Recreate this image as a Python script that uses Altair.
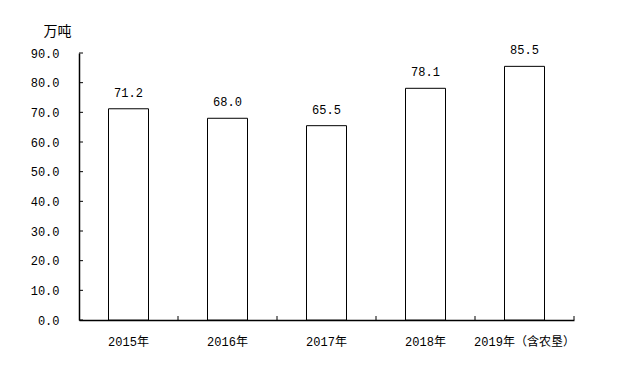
import altair as alt
import pandas as pd

categories = ["2015年", "2016年", "2017年", "2018年", "2019年（含农垦）"]
values = [71.2, 68.0, 65.5, 78.1, 85.5]
y_ticks = [0, 10, 20, 30, 40, 50, 60, 70, 80, 90]

df = pd.DataFrame({"cat": categories, "val": values})
df["label"] = [f"{v:.1f}" for v in values]
ticks_df = pd.DataFrame({"t": y_ticks})

FONT = "Liberation Mono, Noto Sans CJK SC"

x_axis = alt.Axis(title=None, labelAngle=0, ticks=False, domain=True,
                  domainColor="black", domainWidth=1.5,
                  labelPadding=16, labelFont=FONT, labelFontSize=12,
                  labelColor="black", labelOverlap=False)
y_axis = alt.Axis(values=y_ticks, format=".1f", ticks=False, grid=False,
                  domainColor="black", domainWidth=1.5,
                  labelPadding=20, labelFont=FONT, labelFontSize=12,
                  labelColor="black", labelOverlap=False, labelSeparation=0,
                  title="万吨", titleAngle=0, titleX=-22, titleY=-22,
                  titleAlign="center", titleBaseline="middle",
                  titleFont=FONT, titleFontSize=14, titleFontWeight="normal",
                  titleColor="black")
x_scale = alt.Scale(paddingInner=0, paddingOuter=0)
y_scale = alt.Scale(domain=[0, 90], nice=False)

bars = alt.Chart(df).mark_bar(width=40, fill="white", stroke="black", strokeWidth=1).encode(
    x=alt.X("cat:N", sort=categories, scale=x_scale, axis=x_axis),
    y=alt.Y("val:Q", scale=y_scale, axis=y_axis),
)

text = alt.Chart(df).mark_text(baseline="bottom", dy=-9, font=FONT, fontSize=12,
                               color="black").encode(
    x=alt.X("cat:N", sort=categories, scale=x_scale, axis=x_axis),
    y=alt.Y("val:Q", scale=y_scale, axis=y_axis),
    text="label:N",
)

xticks = alt.Chart(df).mark_rule(color="black", strokeWidth=1).encode(
    x=alt.X("cat:N", sort=categories, bandPosition=1, scale=x_scale, axis=x_axis),
    y=alt.value(263),
    y2=alt.value(267),
)

yticks = alt.Chart(ticks_df).mark_rule(color="black", strokeWidth=1).encode(
    y=alt.Y("t:Q", scale=y_scale, axis=y_axis),
    x=alt.value(0),
    x2=alt.value(4),
)

chart = alt.layer(bars, text, xticks, yticks).properties(
    width=495, height=267,
    autosize=alt.AutoSizeParams(type="none"),
    padding={"left": 71, "top": 45, "right": 30, "bottom": 40},
).configure(background="white").configure_view(stroke=None).configure_axis(
    labelOverlap=False, grid=False)

chart.save("out.html", embed_options={"renderer": "svg", "actions": False})
